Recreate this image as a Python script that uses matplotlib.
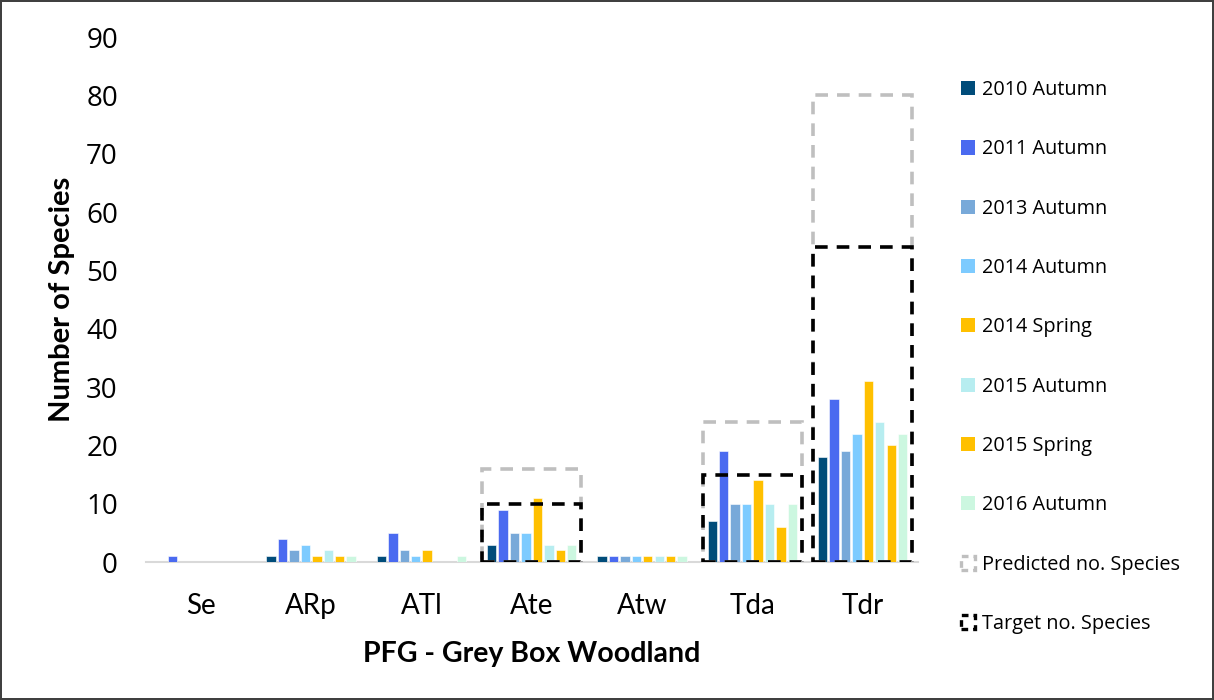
import matplotlib.pyplot as plt
import numpy as np
from matplotlib.patches import Patch
from matplotlib import font_manager

# Plant functional groups on the x axis
groups = ["Se", "ARp", "ATl", "Ate", "Atw", "Tda", "Tdr"]

# Observed species counts per survey
surveys = [
    "2010 Autumn",
    "2011 Autumn",
    "2013 Autumn",
    "2014 Autumn",
    "2014 Spring",
    "2015 Autumn",
    "2015 Spring",
    "2016 Autumn",
]
counts = [
    [0, 1, 1, 3, 1, 7, 18],
    [1, 4, 5, 9, 1, 19, 28],
    [0, 2, 2, 5, 1, 10, 19],
    [0, 3, 1, 5, 1, 10, 22],
    [0, 1, 2, 11, 1, 14, 31],
    [0, 2, 0, 3, 1, 10, 24],
    [0, 1, 0, 2, 1, 6, 20],
    [0, 1, 1, 3, 1, 10, 22],
]
colors = ["#004C7A", "#4A6AF0", "#78A9D9", "#7DCBFF", "#FFC000",
          "#B7EDF0", "#FFC000", "#CCF7E0"]

# Reference numbers of species
predicted = [0, 0, 0, 16, 0, 24, 80]
target = [0, 0, 0, 10, 0, 15, 54]

names = {f.name for f in font_manager.fontManager.ttflist}
narrow = "Liberation Sans Narrow" if "Liberation Sans Narrow" in names else "Lato"

fig = plt.figure(figsize=(12.14, 7.0), dpi=100)
fig.patch.set_edgecolor("#404040")
fig.patch.set_linewidth(1.5)
ax = fig.add_axes([0.120, 0.197, 0.636, 0.750])

x = np.arange(len(groups))
n = len(surveys)
slot = 0.83 / n
bw = slot * 0.82
for i, (label, vals, c) in enumerate(zip(surveys, counts, colors)):
    offs = (i - (n - 1) / 2) * slot
    ax.bar(x + offs, vals, bw, color=c, edgecolor="white", linewidth=0.4, label=label, zorder=2)

# Outline boxes for predicted and target richness (only where defined)
box_w = 0.90
pred = np.array(predicted)
targ = np.array(target)
ax.bar(x[pred > 0], pred[pred > 0], box_w, facecolor="none", edgecolor="#BFBFBF",
       linewidth=2.6, linestyle=(0, (3.5, 2.5)), zorder=3)
ax.bar(x[targ > 0], targ[targ > 0], box_w, facecolor="none", edgecolor="black",
       linewidth=2.6, linestyle=(0, (3.5, 2.5)), zorder=4)

ax.set_xlim(-0.5, len(groups) - 0.5)
ax.set_ylim(0, 90)
ax.set_yticks(np.arange(0, 91, 10))
ax.set_xticks(x)
ax.set_xticklabels(groups, family=narrow, fontsize=20)
for lab in ax.get_yticklabels():
    lab.set_family("Open Sans")
    lab.set_fontsize(20)
ax.tick_params(length=0)
ax.tick_params(axis="x", pad=22)
ax.tick_params(axis="y", pad=20)
for side in ["top", "right", "left"]:
    ax.spines[side].set_visible(False)
ax.spines["bottom"].set_color("#D9D9D9")
ax.spines["bottom"].set_linewidth(1.5)
ax.spines["bottom"].set_zorder(1)

ax.set_xlabel("PFG - Grey Box Woodland", family=narrow,
              fontweight="bold", fontsize=20.5, labelpad=16)
ax.set_ylabel("Number of Species", family=narrow,
              fontweight="bold", fontsize=21, labelpad=8)

handles = [Patch(facecolor=c, edgecolor="none") for c in colors]
handles += [
    Patch(facecolor="none", edgecolor="#BFBFBF", linewidth=2.4, linestyle=(0, (2, 1.5))),
    Patch(facecolor="none", edgecolor="black", linewidth=2.4, linestyle=(0, (2, 1.5))),
]
labels = surveys + ["Predicted no. Species", "Target no. Species"]
fig.legend(handles, labels, loc="upper left", bbox_to_anchor=(0.785, 0.897),
           frameon=False, prop={"family": "Open Sans", "size": 14.3},
           handlelength=0.72, handleheight=0.72, handletextpad=0.35,
           labelspacing=1.98, borderaxespad=0)

fig.savefig("out.png", dpi=100)
